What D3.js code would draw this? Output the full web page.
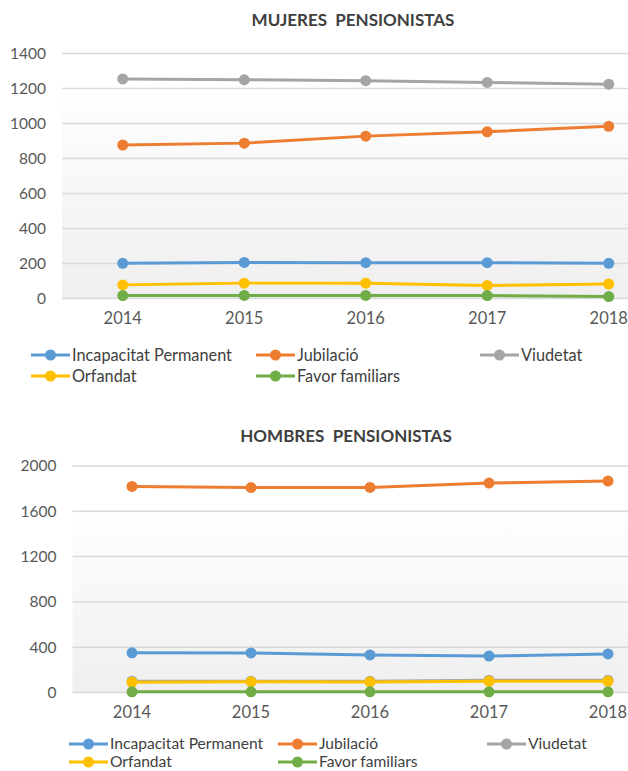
<!doctype html>
<html>
<head>
<meta charset="utf-8">
<script src="https://d3js.org/d3.v7.min.js"></script>
<style>
  body { margin: 0; background: #fff; font-family: Lato, "Open Sans", sans-serif; }
  .tick text { fill: #595959; font-family: Lato, sans-serif; }
  .yaxis .tick text { font-size: 15.5px; }
  .xaxis .tick text { font-size: 16.5px; }
  .title { font-weight: bold; fill: #404040; font-size: 17px; white-space: pre; }
  .legend text { fill: #404040; }
</style>
</head>
<body>
<div id="chart"></div>
<script>
// categories
var years = ["2014", "2015", "2016", "2017", "2018"]
var seriesNames = ["Incapacitat Permanent", "Jubilació", "Viudetat", "Orfandat", "Favor familiars"]
var seriesColors = ["#5b9bd5", "#ed7d31", "#a5a5a5", "#ffc000", "#70ad47"]

// mujeres
var mujIncapacitat = [198, 203, 202, 202, 198]
var mujJubilacio = [874, 885, 925, 950, 981]
var mujViudetat = [1252, 1247, 1242, 1232, 1222]
var mujOrfandat = [75, 85, 85, 72, 80]
var mujFavor = [14, 15, 15, 14, 8]
var mujTicks = [0, 200, 400, 600, 800, 1000, 1200, 1400]

// hombres
var homIncapacitat = [346, 345, 327, 318, 336]
var homJubilacio = [1815, 1805, 1806, 1845, 1863]
var homViudetat = [95, 96, 95, 104, 104]
var homOrfandat = [86, 90, 88, 95, 94]
var homFavor = [2, 2, 2, 2, 2]
var homTicks = [0, 400, 800, 1200, 1600, 2000]

var svg = d3.select("#chart").append("svg")
    .attr("width", 628)
    .attr("height", 771)

var defs = svg.append("defs")
var grad = defs.append("linearGradient")
    .attr("id", "bg").attr("x1", 0).attr("y1", 0).attr("x2", 0).attr("y2", 1)
grad.append("stop").attr("offset", "0%").attr("stop-color", "#ffffff")
grad.append("stop").attr("offset", "100%").attr("stop-color", "#efefef")

function drawChart(opt) {
  var g = svg.append("g")

  var x = d3.scaleBand().domain(years).range([opt.left, opt.right])
  var y = d3.scaleLinear().domain([0, opt.ticks[opt.ticks.length - 1]]).range([opt.bottom, opt.top])

  // plot area background
  g.append("rect")
    .attr("x", opt.left).attr("y", y(opt.ticks[opt.ticks.length - 2]) - 6)
    .attr("width", opt.right - opt.left)
    .attr("height", opt.bottom - y(opt.ticks[opt.ticks.length - 2]) + 6)
    .attr("fill", "url(#bg)")

  // title
  g.append("text").attr("class", "title")
    .attr("x", opt.titleX).attr("y", opt.titleY)
    .attr("text-anchor", "middle")
    .text(opt.title)

  // y axis + grid
  var ya = g.append("g").attr("class", "yaxis")
    .attr("transform", "translate(" + opt.left + ",0)")
    .call(d3.axisLeft(y).tickValues(opt.ticks).tickFormat(d3.format("d"))
      .tickSize(-(opt.right - opt.left)).tickPadding(16))
  ya.select(".domain").remove()
  ya.selectAll(".tick line").attr("stroke", "#d9d9d9").attr("stroke-width", 1.5)
  ya.selectAll(".tick text").attr("dy", "0.35em")

  // x axis
  var xa = g.append("g").attr("class", "xaxis")
    .attr("transform", "translate(0," + opt.bottom + ")")
    .call(d3.axisBottom(x).tickSize(0).tickPadding(14))
  xa.select(".domain").remove()

  // lines
  var line = d3.line()
    .x(function(d, i) { return x(years[i]) + x.bandwidth() / 2 })
    .y(function(d) { return y(d) })

  opt.series.forEach(function(s, k) {
    g.append("path")
      .datum(s)
      .attr("d", line)
      .attr("fill", "none")
      .attr("stroke", seriesColors[k])
      .attr("stroke-width", 3)
    g.selectAll(null)
      .data(s)
      .enter()
      .append("circle")
      .attr("cx", function(d, i) { return x(years[i]) + x.bandwidth() / 2 })
      .attr("cy", function(d) { return y(d) })
      .attr("r", 5.5)
      .attr("fill", seriesColors[k])
  })

  // legend
  var lg = g.append("g").attr("class", "legend")
  seriesNames.forEach(function(name, k) {
    var row = k < 3 ? 0 : 1
    var col = k < 3 ? k : k - 3
    var lx = opt.legendX[col]
    var ly = opt.legendY[row]
    var item = lg.append("g").attr("transform", "translate(" + lx + "," + ly + ")")
    item.append("line")
      .attr("x1", 0).attr("x2", 39).attr("y1", 0).attr("y2", 0)
      .attr("stroke", seriesColors[k]).attr("stroke-width", 3)
    item.append("circle").attr("cx", 19.5).attr("cy", 0).attr("r", 5.5).attr("fill", seriesColors[k])
    item.append("text").attr("x", 41).attr("y", 0).attr("dy", "0.35em")
      .style("font-size", opt.legendFont + "px")
      .text(name)
  })
}

drawChart({
  title: "MUJERES  PENSIONISTAS",
  titleX: 353, titleY: 26,
  left: 62, right: 669.5, top: 53, bottom: 298,
  ticks: mujTicks,
  series: [mujIncapacitat, mujJubilacio, mujViudetat, mujOrfandat, mujFavor],
  legendX: [31, 256, 480],
  legendY: [355, 376],
  legendFont: 16.3
})

drawChart({
  title: "HOMBRES  PENSIONISTAS",
  titleX: 346, titleY: 442,
  left: 72.5, right: 667.5, top: 465.5, bottom: 692,
  ticks: homTicks,
  series: [homIncapacitat, homJubilacio, homViudetat, homOrfandat, homFavor],
  legendX: [69, 278, 487],
  legendY: [744, 762],
  legendFont: 15.6
})
</script>
</body>
</html>
